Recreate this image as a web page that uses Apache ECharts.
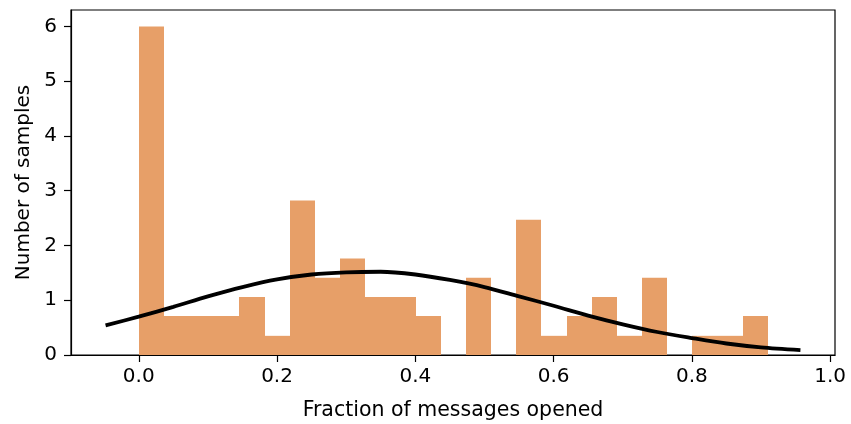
<!DOCTYPE html>
<html><head><meta charset="utf-8">
<script src="https://cdn.jsdelivr.net/npm/echarts@6/dist/echarts.min.js"></script>
<style>html,body{margin:0;padding:0;background:#fff;}#c{width:851px;height:424px;}</style>
</head><body><div id="c"></div>
<script>
// Histogram: 25 bins starting at 0, bin width ~0.0364
const binStart = 0;
const binWidth = 0.0364;
const binHeights = [6.0, 0.71, 0.71, 0.71, 1.06, 0.35, 2.82, 1.41, 1.76, 1.06, 1.06, 0.71, 0, 1.41, 0, 2.47, 0.35, 0.71, 1.06, 0.35, 1.41, 0, 0.35, 0.35, 0.71];
// Fitted curve, points
const curveX = [-0.048, 0.0, 0.05, 0.1, 0.15, 0.2, 0.25, 0.3, 0.35, 0.4, 0.45, 0.5, 0.55, 0.6, 0.65, 0.7, 0.75, 0.8, 0.85, 0.9, 0.957];
const curveY = [0.54, 0.70, 0.88, 1.07, 1.24, 1.38, 1.47, 1.51, 1.52, 1.47, 1.37, 1.24, 1.07, 0.90, 0.72, 0.56, 0.42, 0.31, 0.21, 0.14, 0.09];
const xTicks = [0.0, 0.2, 0.4, 0.6, 0.8, 1.0];
const yTicks = [0, 1, 2, 3, 4, 5, 6];

const histData = binHeights.map((h, i) => [binStart + i * binWidth, binStart + (i + 1) * binWidth, h]);
const curveData = curveX.map((x, i) => [x, curveY[i]]);

const font = 'DejaVu Sans';
const fs = 20;
const chart = echarts.init(document.getElementById('c'), null, {renderer: 'canvas'});
chart.setOption({
  animation: false,
  grid: {left: 71, right: 16, top: 10, bottom: 69, outerBoundsMode: 'none', containLabel: false, show: true, borderColor: '#000', borderWidth: 1.2, backgroundColor: 'transparent'},
  xAxis: {
    type: 'value', min: -0.098, max: 1.007,
    name: 'Fraction of messages opened', nameLocation: 'middle', nameGap: 45,
    nameTextStyle: {fontFamily: font, fontSize: 20.5, color: '#000'},
    axisLine: {show: true, onZero: false, lineStyle: {color: '#000', width: 1.2}},
    axisTick: {show: true, length: 7, lineStyle: {color: '#000', width: 1.2}, customValues: xTicks},
    axisLabel: {fontFamily: font, fontSize: fs, color: '#000', margin: 12, customValues: xTicks, formatter: v => v.toFixed(1)},
    splitLine: {show: false}
  },
  yAxis: {
    type: 'value', min: 0, max: 6.3,
    name: 'Number of samples', nameLocation: 'middle', nameGap: 37,
    nameTextStyle: {fontFamily: font, fontSize: fs, color: '#000'},
    axisLine: {show: true, onZero: false, lineStyle: {color: '#000', width: 1.2}},
    axisTick: {show: true, length: 7, lineStyle: {color: '#000', width: 1.2}, customValues: yTicks},
    axisLabel: {fontFamily: font, fontSize: fs, color: '#000', margin: 14, customValues: yTicks, formatter: v => String(v)},
    splitLine: {show: false}
  },
  series: [
    {
      type: 'custom',
      data: histData,
      encode: {x: [0, 1], y: 2},
      renderItem: function (params, api) {
        const h = api.value(2);
        if (!h) return null;
        const p0 = api.coord([api.value(0), 0]);
        const p1 = api.coord([api.value(1), h]);
        const x0 = Math.round(p0[0]), x1 = Math.round(p1[0]);
        return {
          type: 'rect',
          shape: {x: x0, y: p1[1], width: x1 - x0, height: p0[1] - p1[1]},
          style: {fill: '#e79f68'}
        };
      },
      z: 1
    },
    {
      type: 'line',
      data: curveData,
      smooth: 0.3,
      showSymbol: false,
      lineStyle: {color: '#000', width: 3.8},
      z: 5
    }
  ]
});
</script></body></html>
